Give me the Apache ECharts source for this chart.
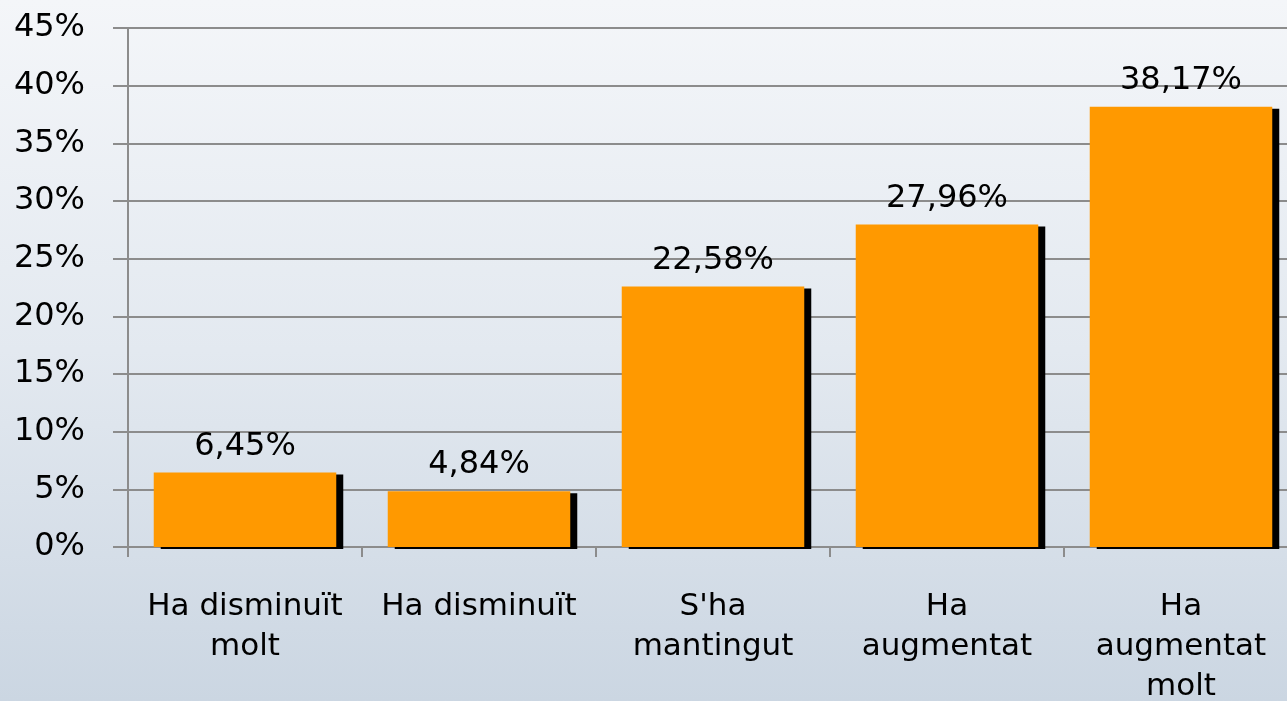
<!DOCTYPE html>
<html>
<head>
<meta charset="utf-8">
<script src="https://cdn.jsdelivr.net/npm/echarts@6/dist/echarts.min.js"></script>
<style>
  html, body { margin: 0; padding: 0; }
  #chart {
    width: 1287px; height: 701px;
    background: linear-gradient(to bottom, #f4f6f9 0%, #e3e9f0 50%, #cbd6e2 100%);
  }
</style>
</head>
<body>
<div id="chart"></div>
<script>
// categories and shares (%)
const categories = ['Ha disminuït\nmolt', 'Ha disminuït', "S'ha\nmantingut", 'Ha\naugmentat', 'Ha\naugmentat\nmolt'];
const values = [6.45, 4.84, 22.58, 27.96, 38.17];
const yTicks = [0, 5, 10, 15, 20, 25, 30, 35, 40, 45];

const font = 'DejaVu Sans';
let chart = echarts.init(document.getElementById('chart'));
chart.setOption({
    animation: false,
    grid: {
        left: 128,
        top: 28,
        bottom: 154,
        width: 1170,
        outerBoundsMode: 'none'
    },
    xAxis: {
        type: 'category',
        data: categories,
        axisLine: { lineStyle: { color: '#8c8c8c', width: 2 } },
        axisTick: { show: true, length: 10, lineStyle: { color: '#8c8c8c', width: 2 } },
        axisLabel: {
            color: '#000',
            fontFamily: font,
            fontSize: 31,
            lineHeight: 40,
            margin: 40,
            interval: 0
        }
    },
    yAxis: {
        type: 'value',
        min: yTicks[0],
        max: yTicks[yTicks.length - 1],
        interval: 5,
        axisLine: { show: true, lineStyle: { color: '#8c8c8c', width: 2 } },
        axisTick: { show: true, length: 15, lineStyle: { color: '#8c8c8c', width: 2 } },
        splitLine: { lineStyle: { color: '#8c8c8c', width: 2 } },
        axisLabel: {
            color: '#000',
            fontFamily: font,
            fontSize: 32,
            margin: 43,
            formatter: v => v + '%'
        }
    },
    series: [{
        type: 'bar',
        data: values,
        barWidth: '78%',
        itemStyle: {
            color: '#ff9900',
            shadowColor: '#000',
            shadowOffsetX: 7,
            shadowOffsetY: 2,
            shadowBlur: 0
        },
        label: {
            show: true,
            position: 'top',
            distance: 10,
            color: '#000',
            fontFamily: font,
            fontSize: 32,
            formatter: p => p.value.toFixed(2).replace('.', ',') + '%'
        }
    }]
});
</script>
</body>
</html>
